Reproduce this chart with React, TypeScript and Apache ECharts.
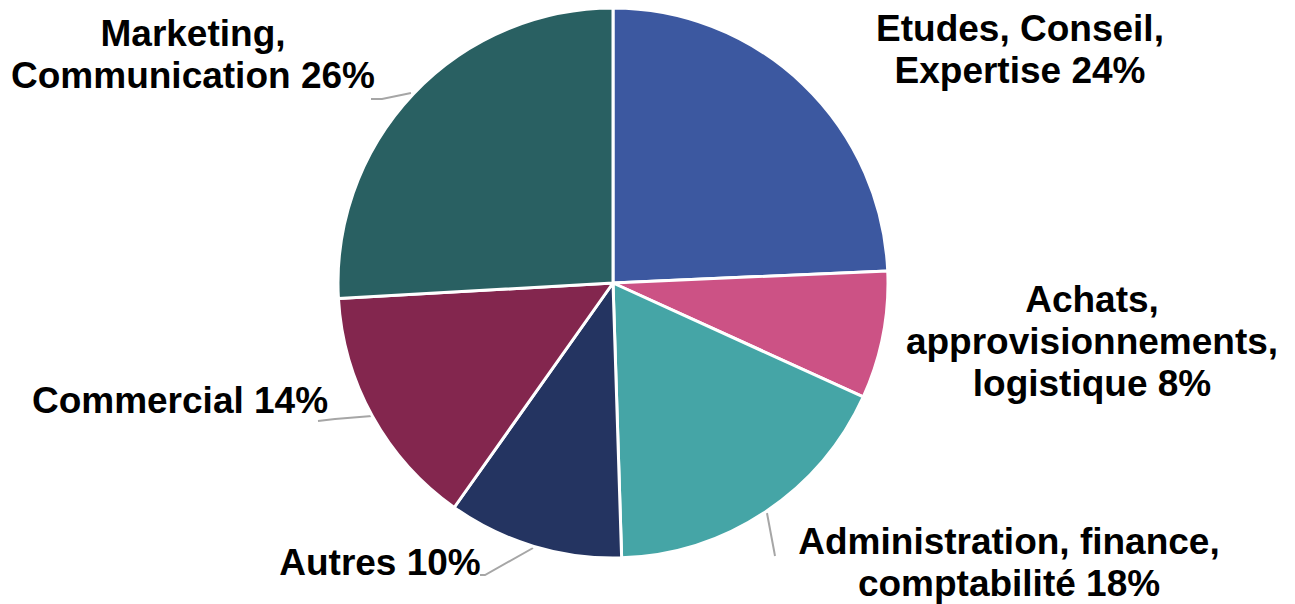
import React, { useEffect, useRef } from "react";
import * as echarts from "echarts";

const categories = [
  "Etudes, Conseil,\nExpertise",
  "Achats,\napprovisionnements,\nlogistique",
  "Administration, finance,\ncomptabilité",
  "Autres",
  "Commercial",
  "Marketing,\nCommunication",
];
const values = [24.3, 7.5, 17.7, 10.3, 14.3, 25.9];
const colors = ["#3C58A0", "#CC5285", "#45A5A6", "#243461", "#83264E", "#296062"];
const labelCenters: [number, number][] = [
  [1020, 49],
  [1092, 341],
  [1009, 562],
  [380, 562],
  [180, 400],
  [193, 54],
];
const labelLines: (number[][] | null)[] = [
  null,
  null,
  [[767, 513], [775, 556]],
  [[533, 548], [485, 575], [480, 575]],
  [[372, 416], [335, 419], [318, 421]],
  [[411, 93], [382, 99], [371, 99]],
];

export default function App() {
  const ref = useRef<HTMLDivElement>(null);
  useEffect(() => {
    const chart = echarts.init(ref.current!, null, { renderer: "svg" });
    chart.setOption({
      animation: false,
      backgroundColor: "#ffffff",
      series: [
        {
          type: "pie",
          center: [613, 283],
          radius: 275,
          startAngle: 90,
          clockwise: true,
          avoidLabelOverlap: false,
          itemStyle: { borderColor: "#ffffff", borderWidth: 3 },
          label: {
            show: true,
            position: "outside",
            formatter: (p: any) => `${p.name} ${Math.round(p.value)}%`,
            color: "#000000",
            fontFamily: "Liberation Sans, Arial, sans-serif",
            fontWeight: "bold",
            fontSize: 37,
            lineHeight: 42,
            align: "center",
          },
          labelLine: {
            show: true,
            length: 20,
            length2: 10,
            smooth: false,
            lineStyle: { color: "#A6A6A6", width: 2 },
          },
          labelLayout: (params: any) => {
            const i = params.dataIndex;
            const [cx, cy] = labelCenters[i];
            const res: any = {
              x: cx,
              y: cy,
              align: "center",
              verticalAlign: "middle",
            };
            if (labelLines[i]) res.labelLinePoints = labelLines[i];
            return res;
          },
          data: categories.map((name, i) => ({
            name,
            value: values[i],
            itemStyle: { color: colors[i] },
            labelLine: { show: labelLines[i] !== null },
          })),
        },
      ],
    });
    return () => chart.dispose();
  }, []);
  return (
    <div
      ref={ref}
      style={{ position: "fixed", left: 0, top: 0, width: 1295, height: 604 }}
    />
  );
}
